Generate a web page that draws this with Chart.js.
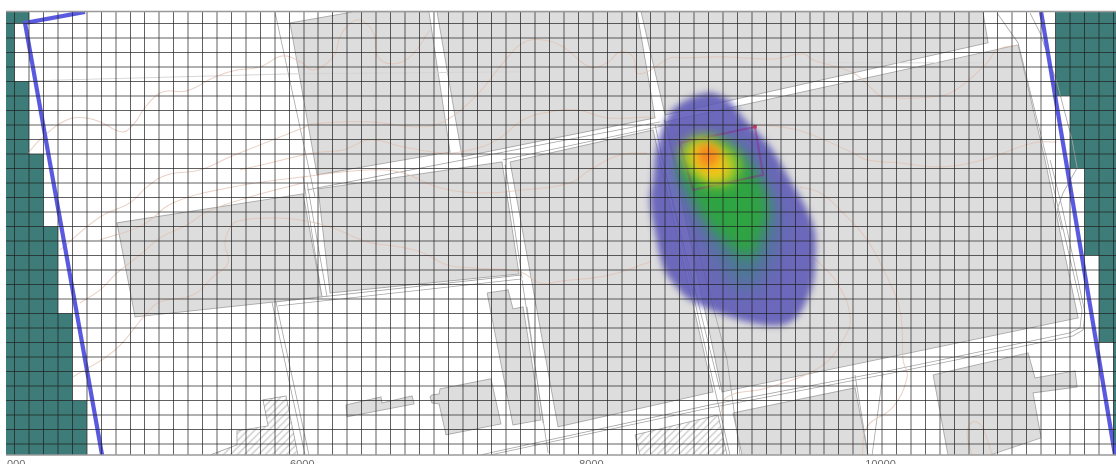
<!DOCTYPE html>
<html><head><meta charset="utf-8">
<style>
html,body{margin:0;padding:0;background:#fff;width:1116px;height:464px;overflow:hidden}
#wrap{position:absolute;left:6px;top:0;width:1110px;height:464px;overflow:hidden}
canvas{display:block;filter:blur(0.45px)}
</style>
<script src="https://cdn.jsdelivr.net/npm/chart.js@4"></script>
</head><body><div id="wrap"><canvas id="c" width="1110" height="464"></canvas></div>
<script>
const X_MIN=3940.5, X_MAX=11618, Y_MIN=24, Y_MAX=3081;
const TICK_LABEL_EVERY=2000, GRID_STEP=100;

// plan cells
const CELLS_LEFT=[[3940,3081],[4100,3081],[4100,3000],[4000,3000],[4000,2600],[4100,2600],[4100,2100],[4200,2100],[4200,1600],[4300,1600],[4300,1000],[4400,1000],[4400,400],[4500,400],[4500,24],[3940,24]];
const CELLS_RIGHT=[[11200,3081],[11618,3081],[11618,24],[11600,24],[11600,800],[11500,800],[11500,1400],[11400,1400],[11400,2000],[11300,2000],[11300,2500],[11200,2500]];
// boundary
const BOUNDARY_LEFT=[[4487,3078],[4072,3002],[4605,24]];
const BOUNDARY_RIGHT=[[11100,3078],[11611,24]];
// buildings
const BUILDINGS=[
 [[5905,3002],[6341,3078],[6866,3078],[7012,2113],[6092,1955]],
 [[6922,3078],[8305,3078],[8430,2348],[7095,2079]],
 [[8333,3078],[10698,3078],[10733,2865],[8499,2368]],
 [[8499,2320],[10941,2851],[11127,2058],[11356,969],[8893,459]],
 [[7427,2044],[8416,2265],[8831,459],[7759,218]],
 [[4708,1624],[5995,1824],[6126,1114],[4833,976]],
 [[6099,1858],[7371,2044],[7489,1272],[6182,1141]],
 [[7268,1141],[7413,1162],[7447,1031],[7517,1045],[7641,266],[7447,231]],
 [[6873,424],[6887,383],[6936,376],[6984,163],[7364,238],[7295,549],[6943,480],[6936,445],[6887,438]],
 [[6292,369],[6534,424],[6541,383],[6749,431],[6763,376],[6299,287]],
 [[8969,314],[9813,487],[9903,24],[9031,24]],
 [[10353,576],[11010,728],[11058,555],[11335,604],[11349,493],[11044,452],[11100,142],[10747,24],[10456,24]]
];
const HATCHED=[
 [[5352,24],[5538,94],[5538,190],[5753,225],[5718,404],[5877,431],[5960,24]],
 [[8291,163],[8865,300],[8928,24],[8326,24]]
];
// roads
const ROADS=[
 [[5801,3078],[6078,1803]],[[5780,1079],[6009,24]],[[5808,1079],[6036,24]],
 [[6023,1851],[8464,2320]],[[5801,1079],[7510,1265]],[[5822,1052],[7510,1238]],
 [[7378,2058],[8478,2292]],[[7392,2024],[7510,1245]],[[5995,1941],[6126,1114]],[[6023,1900],[6161,1114]],
 [[11141,2058],[11210,1762],[11383,1024],[11369,900],[11300,866],[10076,611],[8810,369],[7219,24]],
 [[11162,2058],[11245,1734],[11404,1003],[11390,886],[11321,845],[10076,590],[8810,349],[7288,24]],
 [[10795,3071],[10941,2865],[11141,2058]],
 [[11023,3071],[11093,2933],[11210,2589],[11314,2196],[11349,2003],[11252,1831],[11210,1713],[11245,1576]],
 [[8430,2299],[8796,680],[8948,24]],[[8492,2334],[8928,680],[9018,24]],[[8464,2127],[8879,473]],
 [[7510,1231],[7690,39]],[[7544,1045],[7655,245]],[[9813,576],[9903,24]],[[10007,590],[9931,24]]
];
const FAINT_ROADS=[[[4107,2603],[5905,2651],[7496,2665]],[[9619,2727],[10698,2727]]];
// contours
const C1X=[4093,4196,4362,4487,4591,4743,4819,4916,5026,5192,5372,5511,5697,5857,5988,6064,6202,6265,6375,6479,6514,6610,6735,6873];
const C1Y=[2106,2217,2334,2348,2320,2251,2299,2437,2527,2534,2623,2672,2699,2775,2727,2678,2768,2934,3023,2940,2768,2720,2768,2954];
const C2X=[4314,4591,4798,4916,5054,5282,5490,5697,5995,6064,6458,6783,6963,7198,7378,7517,7655,7793,7980,8098,8188,8278,8305,8374,8533,8623,8900,9246,9453,9523,9799,9938,10007,10401,10539,10726,10795,10941];
const C2Y=[1438,1665,1762,1872,1955,1989,2079,2161,2279,2306,2320,2286,2320,2506,2727,2865,2885,2837,2699,2727,2803,2768,2658,2665,2761,2761,2768,2754,2789,2747,2658,2541,2492,2499,2561,2727,2816,2851];
const C3X=[5559,5767,6064,6272,6458,6687,6963,7150,7337,7517,7703,7890,8098,8416];
const C3Y=[1989,2037,2106,2127,2196,2148,2106,2127,2196,2334,2389,2403,2348,2355];
const C3BX=[9108,9294,9481,9799,9896,10124,10401,10698,11044,11210];
const C3BY=[2299,2286,2244,2106,2058,2037,2010,2058,2175,2182];
const C4X=[4591,4888,5096,5511,5995,6458,6687,6922,7198,7517,7842,7980,8188,8374];
const C4Y=[1507,1610,1762,1872,1941,1989,1968,1872,1831,1851,1900,1989,2093,2106];
const C5X=[4452,4591,4708,4867,5006,5192,5331,5628,5995];
const C5Y=[1072,1162,1279,1403,1520,1610,1700,1803,1900];
const C6X=[4404,4694,4916,5006,5234,5372,5476,5455,5504,5580,5787,5974,6202,6438,6666,6825,6991,7171,7496,7634,7793,8118,8395];
const C6Y=[562,748,1003,1079,1128,1252,1348,1486,1610,1644,1658,1644,1589,1493,1458,1417,1334,1314,1286,1210,1224,1265,1355];
const C7X=[9433,9571,9730,9896,10034,10111,10138,10145,10173,10076,9896,9862];
const C7Y=[1872,1831,1693,1507,1252,1072,907,680,562,356,218,24];
const C8X=[9523,9689,9779,9730,9571,9204,8928,8879];
const C8Y=[1389,1210,976,817,631,486,424,287];
const C9X=[10622,10588,10629,10691,10761];
const C9Y=[24,176,252,218,24];
// plume levels
const PLUME_OUTER_X=[8810,8935,9052,9225,9363,9481,9536,9536,9523,9481,9412,9315,9177,8948,8672,8554,8485,8430,8395,8416,8443,8533,8672];
const PLUME_OUTER_Y=[2527,2472,2334,2148,1920,1713,1555,1321,1210,1093,976,921,921,976,1093,1210,1321,1555,1782,1920,2148,2382,2485];
const PLUME_TEAL_X=[8706,9018,9191,9260,9210,9052,8880,8720,8600];
const PLUME_TEAL_Y=[2127,2127,1851,1644,1369,1170,1369,1713,1950];
const PLUME_GREEN_X=[8700,8893,9052,9170,9215,9165,9085,8950,8780,8680,8600];
const PLUME_GREEN_Y=[2190,2196,2058,1886,1713,1541,1390,1470,1640,1817,2024];
const PLUME_LIME_X=[8600,8741,8915,9020,8945,8800,8650];
const PLUME_LIME_Y=[2135,2225,2155,2030,1895,1885,1995];
const PLUME_YELLOW_X=[8690,8835,8940,8905,8789,8680];
const PLUME_YELLOW_Y=[2165,2150,2015,1935,1930,2055];
const PLUME_ORANGE_X=[8727,8824,8875,8824,8741];
const PLUME_ORANGE_Y=[2150,2165,2093,2015,2030];
const SOURCE_RECT=[[8603,2175],[9121,2286],[9177,1955],[8692,1851]];
const SOURCE_POINT=[[9121,2286]];

const pairs=a=>a.map(p=>({x:p[0],y:p[1]}));
const zip=(xs,ys)=>xs.map((x,i)=>({x,y:ys[i]}));
const close=d=>d.concat([d[0]]);
const base={showLine:true,pointRadius:0,pointHoverRadius:0,borderWidth:0,borderColor:'transparent',backgroundColor:'transparent',fill:false,tension:0};
const area=(data,color,extra)=>Object.assign({},base,{data,fill:'shape',backgroundColor:color},extra||{});
const line=(data,color,w,extra)=>Object.assign({},base,{data,borderColor:color,borderWidth:w},extra||{});

function hatchPattern(){
  const s=7,t=document.createElement('canvas');t.width=t.height=s*2;
  const g=t.getContext('2d');g.fillStyle='#fff';g.fillRect(0,0,s*2,s*2);
  g.strokeStyle='#bcbcbc';g.lineWidth=1.1;
  for(let k=-1;k<3;k++){g.beginPath();g.moveTo(k*s-2,s*2+2);g.lineTo(k*s+s*2+2,-2);g.stroke();}
  return g.createPattern(t,'repeat');
}
const hatch=hatchPattern();
const BLD='#dddddd',EDGE='#a9a9a9',CONT='rgba(226,192,178,.75)',TEAL='#3d7c78',BLUE='#5a5ae0';

const painted=[];
painted.push(area(pairs(CELLS_LEFT),TEAL));
painted.push(area(pairs(CELLS_RIGHT),TEAL));
BUILDINGS.forEach(b=>painted.push(area(close(pairs(b)),BLD,{borderColor:EDGE,borderWidth:0.9})));
HATCHED.forEach(b=>painted.push(area(close(pairs(b)),hatch,{borderColor:'#a0a0a0',borderWidth:0.8})));
FAINT_ROADS.forEach(r=>painted.push(line(pairs(r),'#d5d5d5',0.9)));
ROADS.forEach(r=>painted.push(line(pairs(r),'#a6a6a6',0.8)));
[[C1X,C1Y],[C2X,C2Y],[C3X,C3Y],[C3BX,C3BY],[C4X,C4Y],[C5X,C5Y],[C6X,C6Y],[C7X,C7Y],[C8X,C8Y],[C9X,C9Y]].forEach(c=>painted.push(line(zip(c[0],c[1]),CONT,1,{tension:0.4})));
painted.push(area(close(zip(PLUME_OUTER_X,PLUME_OUTER_Y)),'rgba(90,85,182,.86)',{tension:0.35,blur:3.5}));
painted.push(area(close(zip(PLUME_TEAL_X,PLUME_TEAL_Y)),'rgba(50,135,115,.6)',{tension:0.4,blur:11}));
painted.push(area(close(zip(PLUME_GREEN_X,PLUME_GREEN_Y)),'rgba(44,168,58,.9)',{tension:0.4,blur:7}));
painted.push(line(close(pairs(SOURCE_RECT)),'rgba(140,40,130,.45)',2.2));
painted.push(area(close(zip(PLUME_LIME_X,PLUME_LIME_Y)),'rgba(165,205,40,.95)',{tension:0.4,blur:6}));
painted.push(area(close(zip(PLUME_YELLOW_X,PLUME_YELLOW_Y)),'rgba(248,198,24,.95)',{tension:0.4,blur:5}));
painted.push(area(close(zip(PLUME_ORANGE_X,PLUME_ORANGE_Y)),'rgba(246,128,32,.9)',{tension:0.4,blur:4.5}));
painted.push(Object.assign({},base,{data:pairs(SOURCE_POINT),showLine:false,pointRadius:2,pointBackgroundColor:'rgba(200,40,80,.8)',pointBorderWidth:0}));
painted.push(line(pairs(BOUNDARY_LEFT),BLUE,4.2,{borderJoinStyle:'miter'}));
painted.push(line(pairs(BOUNDARY_RIGHT),BLUE,4.2));

const DPR=2;
// soft-edge support has to run before the fill plugin, so fill is re-registered after it
const softEdge={id:'softEdge',
  beforeDatasetDraw(ch,a){const d=ch.data.datasets[a.index];if(d.blur){ch.ctx.save();ch.ctx.filter='blur('+(d.blur*DPR)+'px)';}},
  afterDatasetDraw(ch,a){const d=ch.data.datasets[a.index];if(d.blur){ch.ctx.restore();}}
};
const filler=Chart.registry.getPlugin('filler');
Chart.unregister(filler);Chart.register(softEdge);Chart.register(filler);

const frame={id:'frame',afterDraw(ch){const c=ch.ctx,a=ch.chartArea;c.save();c.strokeStyle='#999';c.lineWidth=1.5;
  c.beginPath();c.moveTo(a.left,a.top);c.lineTo(a.right,a.top);c.moveTo(a.left,a.bottom);c.lineTo(a.right,a.bottom);c.stroke();c.restore();}};

new Chart(document.getElementById('c'),{
  type:'scatter',
  data:{datasets:painted.slice().reverse()},
  plugins:[frame],
  options:{
    responsive:false,animation:false,devicePixelRatio:DPR,
    layout:{autoPadding:false,padding:{top:11.5,left:0,right:0,bottom:0}},
    plugins:{legend:{display:false},title:{display:false},tooltip:{enabled:false}},
    events:[],
    scales:{
      x:{type:'linear',min:X_MIN,max:X_MAX,
        grid:{color:'rgba(30,30,30,.7)',lineWidth:1,drawTicks:false,z:1},border:{display:false},
        ticks:{stepSize:GRID_STEP,autoSkip:false,maxRotation:0,includeBounds:false,padding:3,labelOffset:-1.5,color:'#666',
          font:{family:'"Liberation Sans",Arial,sans-serif',size:11},
          callback:v=>v%TICK_LABEL_EVERY===0?String(v):''},
        afterFit(s){s.paddingLeft=0;s.paddingRight=0;s.height=9;}},
      y:{type:'linear',min:Y_MIN,max:Y_MAX,
        grid:{color:'rgba(30,30,30,.7)',lineWidth:1,drawTicks:false,z:1},border:{display:false},
        ticks:{stepSize:GRID_STEP,autoSkip:false,display:false,includeBounds:false},
        afterFit(s){s.width=0;s.paddingTop=0;s.paddingBottom=0;}}
    }
  }
});
</script></body></html>
